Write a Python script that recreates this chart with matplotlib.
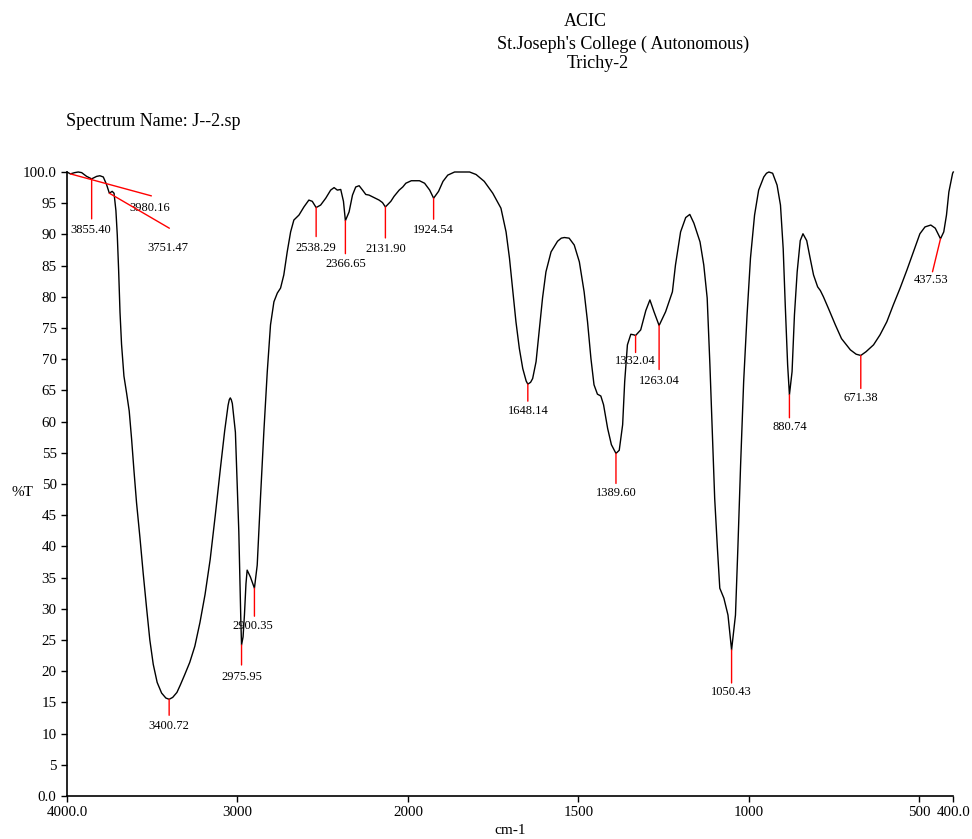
import numpy as np
import matplotlib
matplotlib.use("Agg")
from matplotlib import pyplot as plt

plt.rcParams['font.family'] = ['Liberation Serif', 'DejaVu Serif']

# spectrum J--2.sp : wavenumber (cm-1) and %T
wavenumber = [
    4000, 3980.16, 3955, 3934, 3914, 3885, 3855.40, 3826, 3807, 3787, 3768, 3751.47,
    3735, 3724, 3713, 3705, 3697, 3689, 3680, 3666, 3650, 3635, 3621, 3607, 3592,
    3572, 3553, 3533, 3514, 3494, 3471, 3445, 3420, 3400.72, 3380, 3355, 3335, 3310,
    3280, 3250, 3220, 3190, 3160, 3130, 3100, 3075, 3055, 3048, 3042, 3036, 3030, 3012,
    2992, 2980, 2975.95, 2967, 2959, 2950, 2943, 2924, 2900.35, 2884, 2865, 2845, 2825,
    2806, 2786, 2766, 2747, 2728, 2708, 2688, 2669, 2639, 2610, 2581, 2561, 2538.29,
    2512, 2482, 2453, 2433, 2414, 2394, 2378, 2366.65, 2345, 2325, 2306, 2286, 2266,
    2247, 2228, 2198, 2169, 2149, 2131.90, 2100, 2081, 2051, 2030, 2012, 1990, 1966,
    1951, 1936, 1924.54, 1910, 1897, 1883, 1863, 1844, 1819, 1800, 1776, 1751, 1727,
    1712, 1702, 1692, 1683, 1673, 1663, 1653, 1648.14, 1640, 1634, 1624, 1615, 1605,
    1595, 1580, 1561, 1550, 1541, 1527, 1512, 1497, 1483, 1473, 1463, 1454, 1444, 1434,
    1426, 1414, 1403, 1389.60, 1380, 1370, 1364, 1356, 1346, 1337, 1332.04, 1317,
    1302, 1290, 1278, 1263.04, 1244, 1224, 1215, 1200, 1185, 1173, 1161, 1143, 1132,
    1122, 1114, 1107, 1100, 1092, 1085, 1073, 1061, 1054, 1050.43, 1039, 1032, 1024,
    1015, 1005, 995, 983, 971, 956, 948, 941, 930, 917, 907, 899, 893, 886, 880.74, 873,
    866, 858, 849, 841, 830, 820, 810, 798, 790, 781, 766, 746, 728, 702, 685,
    671.38, 656, 634, 615, 595, 576, 556, 536, 517, 498, 483, 466, 453, 437.53, 428,
    420, 413, 402, 400,
]
transmittance = [
    100.0, 99.7, 99.9, 100.0, 99.9, 99.3, 98.9, 99.3, 99.4, 99.2, 98.0, 96.6,
    96.9, 96.6, 93.8, 89.9, 84.2, 77.5, 72.4, 67.3, 64.5, 61.7, 57.2, 52.1, 47.0,
    41.4, 35.7, 30.1, 25.0, 21.1, 18.2, 16.5, 15.7, 15.5, 15.8, 16.6, 17.8, 19.4,
    21.4, 24.0, 27.8, 32.3, 37.9, 45.0, 52.5, 58.5, 62.6, 63.5, 63.8, 63.5, 62.9, 58.3,
    42.4, 28.0, 24.2, 25.5, 29.0, 34.0, 36.2, 35.1, 33.3, 37.0, 47.7, 58.4, 68.0,
    75.5, 79.2, 80.6, 81.4, 83.5, 87.2, 90.4, 92.3, 93.1, 94.4, 95.5, 95.3, 94.3,
    94.7, 95.8, 97.1, 97.5, 97.1, 97.2, 95.3, 92.2, 93.6, 96.3, 97.6, 97.8, 97.1,
    96.4, 96.3, 95.9, 95.5, 95.1, 94.4, 95.3, 96.1, 97.1, 97.6, 98.2, 98.6, 98.6,
    98.2, 97.1, 95.8, 96.9, 98.5, 99.5, 100.0, 100.0, 100.0, 99.6, 98.5, 96.6, 94.2,
    90.4, 86.2, 80.8, 76.0, 71.7, 68.5, 66.5, 66.0, 66.3, 66.9, 69.6, 74.4, 79.8,
    84.0, 87.2, 88.9, 89.4, 89.5, 89.4, 88.3, 85.6, 80.8, 76.0, 70.1, 65.9, 64.4, 64.1,
    62.7, 58.9, 56.3, 54.9, 55.4, 59.5, 66.4, 72.3, 74.0, 73.9, 73.8, 74.7,
    77.8, 79.5, 77.6, 75.4, 77.6, 80.8, 85.1, 90.4, 92.7, 93.2, 91.8, 88.8, 85.1,
    79.8, 69.1, 58.4, 47.7, 39.7, 33.3, 31.7, 29.0, 25.3, 23.4, 29.0, 39.7, 53.0,
    66.4, 77.1, 86.2, 93.1, 97.1, 99.2, 99.8, 100.0, 99.8, 97.9, 94.7, 87.7, 78.7, 69.1,
    64.3, 68.0, 77.1, 84.0, 89.0, 90.1, 89.0, 86.2, 83.5, 81.6, 81.0, 80.0, 78.1, 75.5,
    73.3, 71.5, 70.8,
    70.6, 71.2, 72.3, 73.9, 76.0, 78.7, 81.4, 84.3, 87.2, 90.1, 91.2, 91.5, 91.0, 89.3, 90.4,
    93.1, 96.8, 99.8, 100.0,
]

# picked peaks
peaks = [3980.16, 3855.40, 3751.47, 3400.72, 2975.95, 2900.35, 2538.29, 2366.65,
         2131.90, 1924.54, 1648.14, 1389.60, 1332.04, 1263.04, 1050.43, 880.74,
         671.38, 437.53]
# marker line end and label centre, in pixels from the peak point
line_off = [(81, -22), (0, -40), (60, -35), (0, -16), (0, -20), (0, -28), (0, -29),
            (0, -33), (0, -31), (0, -21), (0, -17), (0, -30), (0, -17), (0, -44),
            (0, -33), (0, -23), (0, -33), (-8, -33)]
text_off = [(79, -34), (-1, -51), (59, -55), (0, -27), (0, -32), (-2, -38), (0, -40),
            (0, -43), (0, -42), (0, -32), (0, -27), (0, -40), (0, -26), (0, -55),
            (0, -42), (0, -32), (0, -43), (-9, -41)]

xticks = [4000, 3000, 2000, 1500, 1000, 500, 400]
xtick_labels = ["4000.0", "3000", "2000", "1500", "1000", "500", "400.0"]
yticks = list(range(0, 101, 5))
ytick_labels = ["0.0"] + [str(v) for v in yticks[1:-1]] + ["100.0"]


# abscissa scale halves above 2000 cm-1
def forward(x):
    x = np.asarray(x, dtype=float)
    return np.where(x > 2000, 2000 + (x - 2000) / 2, x)


def inverse(u):
    u = np.asarray(u, dtype=float)
    return np.where(u > 2000, 2000 + (u - 2000) * 2, u)


fig = plt.figure(figsize=(9.72, 8.39), dpi=100)
ax = fig.add_axes([67 / 972, 43 / 839, 886.3 / 972, 624 / 839])
ax.set_xscale('function', functions=(forward, inverse))
ax.set_xlim(4000, 400)
ax.set_ylim(0, 100)

ax.plot(wavenumber, transmittance, color='black', lw=1.0, clip_on=False,
        solid_joinstyle='round')

wn_asc = np.array(wavenumber)[::-1]
t_asc = np.array(transmittance)[::-1]
for p, (lx, ly), (tx, ty) in zip(peaks, line_off, text_off):
    t = float(np.interp(p, wn_asc, t_asc))
    ax.annotate('', xy=(p, t), xytext=(lx, ly), textcoords='offset pixels',
                arrowprops=dict(arrowstyle='-', color='red', lw=1.0,
                                shrinkA=0, shrinkB=0))
    ax.annotate(f"{p:.2f}", xy=(p, t), xytext=(tx, ty), textcoords='offset pixels',
                ha='center', va='center', fontsize=9)

for side in ('top', 'right'):
    ax.spines[side].set_visible(False)
for side in ('left', 'bottom'):
    ax.spines[side].set_linewidth(1.2)
ax.set_xticks(xticks)
ax.set_xticklabels(xtick_labels)
ax.set_yticks(yticks)
ax.set_yticklabels(ytick_labels)
ax.xaxis.set_minor_locator(matplotlib.ticker.NullLocator())
ax.tick_params(axis='both', direction='out', length=4.5, width=1.0, labelsize=10.8,
               pad=3)

fig.text(585 / 972, 1 - 22 / 839, "ACIC", ha='center', va='center', fontsize=13)
fig.text(623 / 972, 1 - 44 / 839, "St.Joseph's College ( Autonomous)",
         ha='center', va='center', fontsize=13)
fig.text(598 / 972, 1 - 63 / 839, "Trichy-2", ha='center', va='center', fontsize=13)
fig.text(66 / 972, 1 - 122 / 839, "Spectrum Name: J--2.sp", ha='left', va='center',
         fontsize=13)
fig.text(11 / 972, 1 - 492 / 839, "%T", ha='left', va='center', fontsize=11)
fig.text(510 / 972, 1 - 830 / 839, "cm-1", ha='center', va='center', fontsize=11)

fig.savefig("out.png", dpi=100)
